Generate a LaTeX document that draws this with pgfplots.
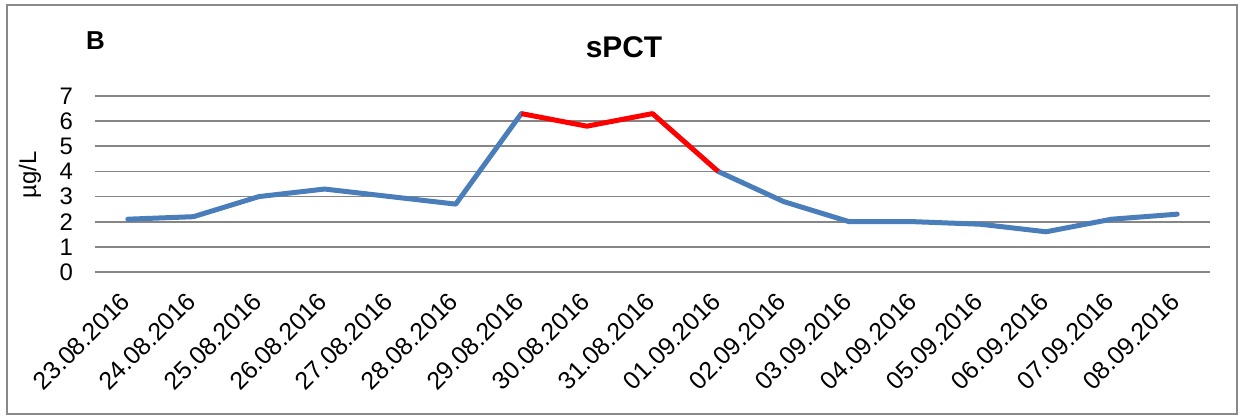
\documentclass[border=0pt]{standalone}
\usepackage{fontspec}
\setmainfont{Liberation Sans}
\usepackage{pgfplots}
\pgfplotsset{compat=1.18}
\definecolor{exblue}{HTML}{4A7EBB}
\definecolor{gridgray}{HTML}{868686}
\definecolor{framegray}{HTML}{898989}
\begin{document}
\begin{tikzpicture}[x=1bp,y=1bp]
\useasboundingbox (0,0) rectangle (1244,419);
\fill[white] (0,0) rectangle (1244,419);
\draw[framegray, line width=2bp] (7,5) rectangle (1237,414);
\begin{axis}[
 at={(95bp,147bp)}, anchor=south west,
 scale only axis, width=1115bp, height=176bp,
 xmin=-0.5, xmax=16.5, ymin=0, ymax=7,
 ytick={0,...,7}, xtick={0,...,16},
 xticklabels={23.08.2016,24.08.2016,25.08.2016,26.08.2016,27.08.2016,28.08.2016,29.08.2016,30.08.2016,31.08.2016,01.09.2016,02.09.2016,03.09.2016,04.09.2016,05.09.2016,06.09.2016,07.09.2016,08.09.2016},
 ymajorgrids, grid style={gridgray, line width=1.6bp},
 axis line style={draw=none},
 major tick length=0pt,
 /pgf/number format/assume math mode=true,
 yticklabel style={anchor=east, inner sep=0pt, xshift=-22bp, font=\fontsize{24}{28}\selectfont},
 xticklabel style={anchor=east, inner sep=0pt, xshift=-2bp, yshift=-25bp, rotate=45, font=\fontsize{25}{30}\selectfont},
 clip=false,
]
\addplot[exblue, line width=5bp, line cap=round, line join=round] coordinates {(0,2.1) (1,2.2) (2,3.0) (3,3.3) (4,3.0) (5,2.7) (6,6.3)};
\addplot[exblue, line width=5bp, line cap=round, line join=round] coordinates {(9,4.0) (10,2.8) (11,2.0) (12,2.0) (13,1.9) (14,1.6) (15,2.1) (16,2.3)};
\addplot[red, line width=5bp, line join=round] coordinates {(6,6.3) (7,5.8) (8,6.3) (9,4.0)};
\end{axis}
\node[font=\bfseries\fontsize{30}{36}\selectfont] at (624,372) {sPCT};
\node[anchor=base west, font=\bfseries\fontsize{26}{31}\selectfont, inner sep=0pt] at (86,370) {B};
\node[rotate=90, font=\fontsize{24}{28}\selectfont] at (30,244) {µg/L};
\end{tikzpicture}
\end{document}
